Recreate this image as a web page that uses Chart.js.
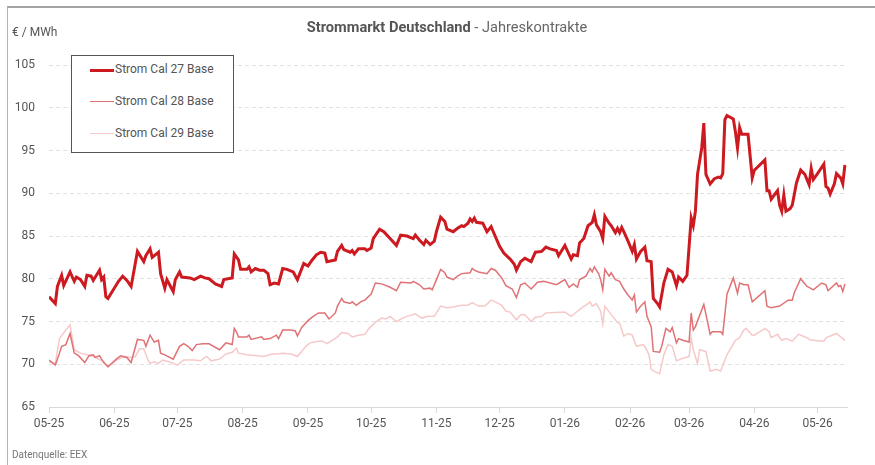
<!DOCTYPE html>
<html lang="de">
<head>
<meta charset="utf-8">
<title>Strommarkt Deutschland - Jahreskontrakte</title>
<script src="https://cdn.jsdelivr.net/npm/chart.js@4.4.1/dist/chart.umd.min.js"></script>
<style>
  body { margin: 0; background: #fff; font-family: "Liberation Sans Narrow", "Roboto", sans-serif; }
  #wrap { position: relative; width: 875px; height: 465px; overflow: hidden; }
  #frame { position: absolute; left: 7px; top: 6px; width: 870px; height: 470px; border-top: 2px solid #a3a3a3; border-left: 1px solid #b3b3b3; }
  canvas { position: absolute; left: 0; top: 0; }
  .txt { position: absolute; white-space: nowrap; color: #555; }
  #title { left: 49px; width: 796px; top: 18px; text-align: center; font-size: 14.6px; color: #666; }
  #title b { color: #555; }
  #unit { left: 12px; top: 25px; font-size: 12px; }
  #source { left: 12px; top: 449px; font-size: 10px; color: #777; }
  #legend { position: absolute; left: 71px; top: 55px; width: 161px; height: 96px; border: 1px solid #555; background: #fff; }
  .item { position: absolute; left: 18px; height: 16px; }
  .item span.sw { position: absolute; left: 0; width: 24px; }
  .item span.lb { position: absolute; left: 25px; top: 0; font-size: 12px; color: #555; white-space: nowrap; }
</style>
</head>
<body>
<div id="wrap">
  <div id="frame"></div>
  <canvas id="chart" width="875" height="465"></canvas>
  <div id="title" class="txt"><b>Strommarkt Deutschland</b> - Jahreskontrakte</div>
  <div id="unit" class="txt">€ / MWh</div>
  <div id="source" class="txt">Datenquelle: EEX</div>
  <div id="legend"></div>
</div>
<script>
// Monatsanfänge als Tage seit 01.05.2025
var monthTicks = [0, 31, 61, 92, 123, 153, 184, 214, 245, 276, 304, 335, 365];
var monthLabels = ['05-25', '06-25', '07-25', '08-25', '09-25', '10-25', '11-25', '12-25', '01-26', '02-26', '03-26', '04-26', '05-26'];

var seriesNames = ['Strom Cal 27 Base', 'Strom Cal 28 Base', 'Strom Cal 29 Base'];
var seriesColors = ['#cc1a20', '#e07275', '#f6c9c9'];
var seriesWidths = [3, 1.5, 1.5];

// Cal 27 (Tage seit 01.05.2025 / EUR je MWh)
var days27 = [0, 3, 4, 6, 7, 10, 12, 13, 15, 17, 18, 20, 21, 24, 25, 26, 27, 28, 32, 33,
  35, 37, 39, 42, 45, 46, 48, 49, 52, 53, 55, 56, 59, 60, 62, 63, 67, 69, 72, 74,
  76, 79, 82, 83, 87, 88, 90, 91, 94, 95, 96, 98, 100, 102, 104, 105, 107, 109, 111, 113,
  116, 118, 121, 123, 125, 127, 129, 131, 132, 136, 137, 139, 140, 143, 144, 145, 147, 150, 151, 153,
  154, 157, 159, 162, 165, 167, 170, 173, 174, 176, 178, 179, 181, 183, 184, 186, 188, 189, 192, 194,
  196, 197, 199, 200, 201, 202, 203, 206, 208, 210, 211, 214, 216, 219, 221, 222, 224, 226, 229, 231,
  234, 236, 238, 241, 242, 245, 248, 249, 251, 252, 254, 256, 258, 259, 260, 262, 263, 264, 266, 267,
  269, 270, 271, 272, 273, 275, 277, 278, 279, 281, 283, 284, 286, 287, 289, 290, 292, 294, 296, 298,
  299, 301, 303, 305, 306, 307, 308, 310, 311, 312, 314, 316, 318, 319, 320, 321, 322, 325, 326, 327,
  328, 329, 332, 334, 335, 340, 341, 342, 343, 346, 347, 348, 349, 350, 352, 353, 355, 357, 359, 361,
  362, 363, 365, 368, 369, 370, 371, 373, 374, 376, 377, 378];
var cal27 = [77.9, 77.1, 79.1, 80.4, 79.2, 80.8, 79.7, 80.2, 79.9, 79.1, 80.4, 80.3, 79.8, 81.0, 79.9, 80.2, 77.9, 77.7, 79.3, 79.7,
  80.3, 79.8, 79.1, 83.2, 82.0, 82.7, 83.5, 82.5, 83.1, 80.6, 78.9, 79.9, 78.5, 79.9, 80.8, 80.2, 80.1, 79.9, 80.3, 80.1,
  80.0, 79.4, 79.1, 79.9, 80.1, 82.9, 82.2, 81.1, 81.1, 81.4, 80.8, 81.2, 81.0, 81.0, 80.6, 79.3, 79.5, 79.4, 81.2, 81.1,
  80.8, 79.9, 81.8, 81.5, 82.2, 82.8, 83.1, 83.0, 82.0, 82.2, 83.2, 83.9, 83.4, 83.1, 83.3, 82.9, 83.5, 83.5, 83.3, 83.6,
  84.7, 85.8, 85.5, 84.7, 83.9, 85.1, 85.0, 84.7, 85.1, 84.5, 84.0, 84.5, 84.0, 84.4, 85.5, 87.2, 86.7, 85.8, 85.5, 85.9,
  86.2, 86.1, 86.5, 87.0, 86.7, 87.1, 86.6, 86.5, 85.5, 86.1, 85.5, 83.8, 83.0, 82.3, 81.7, 81.0, 82.0, 82.4, 82.0, 83.1,
  83.2, 83.7, 83.5, 83.3, 82.7, 83.9, 82.3, 82.8, 82.7, 84.2, 84.7, 86.2, 86.6, 87.5, 86.3, 85.5, 84.7, 87.3, 86.5, 86.2,
  85.4, 85.9, 85.4, 86.0, 85.5, 84.4, 83.2, 84.0, 82.3, 83.2, 83.7, 82.1, 82.0, 77.7, 77.1, 76.7, 79.5, 81.1, 80.8, 79.2,
  80.2, 79.7, 80.4, 87.1, 86.2, 87.9, 92.2, 95.3, 98.2, 92.2, 91.1, 91.7, 91.9, 91.8, 92.3, 98.6, 99.1, 98.7, 97.2, 95.3,
  97.7, 96.9, 96.9, 91.8, 92.7, 93.9, 90.3, 90.3, 89.3, 90.3, 88.6, 87.9, 89.8, 87.9, 88.2, 88.6, 91.2, 92.7, 92.2, 91.0,
  92.9, 91.6, 92.3, 93.4, 90.8, 90.6, 89.9, 91.1, 92.3, 91.8, 91.1, 93.3];

// Cal 28
var days28 = [0, 3, 5, 6, 8, 10, 12, 14, 17, 19, 21, 22, 24, 26, 28, 32, 34, 37, 39, 42,
  45, 46, 48, 50, 52, 53, 55, 59, 62, 64, 66, 68, 70, 73, 76, 81, 84, 87, 88, 89,
  90, 94, 95, 96, 101, 102, 105, 108, 109, 111, 115, 117, 118, 120, 123, 125, 128, 131, 133, 136,
  137, 139, 140, 143, 144, 146, 148, 150, 153, 155, 158, 162, 165, 167, 172, 173, 176, 178, 181, 182,
  184, 186, 188, 189, 192, 194, 196, 200, 201, 202, 204, 208, 210, 212, 215, 217, 220, 222, 224, 226,
  229, 232, 235, 241, 245, 247, 249, 251, 252, 255, 257, 258, 259, 261, 262, 263, 264, 266, 267, 269,
  271, 273, 275, 277, 278, 279, 281, 283, 284, 286, 287, 290, 291, 293, 295, 296, 298, 299, 301, 304,
  305, 306, 307, 311, 314, 315, 319, 320, 322, 325, 327, 328, 330, 332, 334, 340, 341, 343, 347, 351,
  353, 354, 357, 360, 361, 363, 367, 369, 370, 374, 375, 376, 377, 378];
var cal28 = [70.5, 69.9, 71.3, 72.1, 72.3, 73.6, 71.3, 71.0, 70.2, 71.0, 71.1, 70.8, 71.0, 70.2, 69.7, 70.6, 71.0, 70.8, 70.2, 72.9,
  72.8, 72.1, 73.4, 72.6, 72.8, 71.3, 71.1, 70.6, 72.1, 72.4, 72.1, 71.6, 72.3, 72.4, 72.4, 71.7, 72.5, 72.3, 74.2, 73.8,
  73.2, 73.2, 73.4, 72.9, 73.2, 72.9, 73.0, 73.4, 73.0, 74.0, 74.0, 73.9, 73.3, 74.3, 75.1, 75.5, 76.0, 76.0, 75.3, 76.0,
  76.8, 77.7, 77.3, 77.1, 77.3, 76.9, 77.3, 77.5, 78.2, 79.5, 79.4, 79.0, 78.6, 79.6, 79.5, 79.7, 79.3, 78.8, 78.9, 78.7,
  79.9, 81.1, 80.7, 80.2, 79.9, 80.3, 80.6, 80.7, 81.2, 81.0, 80.8, 80.6, 81.2, 81.0, 80.1, 79.2, 78.8, 77.8, 79.3, 79.5,
  78.8, 79.6, 79.7, 79.3, 79.9, 79.0, 79.4, 79.0, 79.9, 80.3, 81.2, 80.8, 81.4, 80.6, 79.9, 78.7, 81.1, 80.3, 80.7, 79.9,
  79.7, 78.8, 78.1, 77.5, 78.1, 76.1, 76.8, 77.3, 75.6, 74.4, 71.5, 71.4, 72.1, 74.2, 73.8, 74.3, 72.5, 73.0, 72.8, 72.6,
  76.0, 74.0, 74.4, 77.0, 73.5, 73.8, 73.8, 73.5, 78.2, 80.1, 78.3, 79.5, 79.3, 79.3, 77.3, 78.6, 76.8, 76.6, 76.8, 77.5,
  77.5, 78.4, 80.0, 79.1, 79.0, 78.7, 79.5, 79.3, 78.6, 79.5, 79.1, 79.2, 78.5, 79.4];

// Cal 29
var days29 = [0, 3, 5, 8, 10, 12, 15, 18, 21, 26, 28, 32, 36, 39, 41, 43, 45, 47, 48, 50,
  52, 54, 58, 61, 64, 69, 72, 74, 75, 77, 81, 84, 87, 89, 90, 94, 99, 102, 106, 108,
  111, 115, 118, 120, 122, 124, 128, 130, 132, 134, 137, 139, 142, 144, 147, 150, 152, 155, 158, 160,
  162, 165, 168, 170, 174, 177, 180, 183, 186, 189, 192, 196, 199, 201, 204, 207, 210, 212, 215, 217,
  219, 222, 224, 226, 229, 231, 234, 236, 245, 248, 251, 253, 256, 257, 258, 260, 262, 263, 264, 267,
  270, 271, 273, 275, 277, 279, 282, 283, 285, 286, 288, 290, 292, 294, 296, 298, 301, 304, 305, 306,
  308, 309, 312, 314, 317, 319, 322, 326, 328, 330, 331, 334, 335, 340, 342, 343, 346, 348, 350, 353,
  356, 360, 362, 363, 368, 369, 374, 377, 378];
var cal29 = [70.3, 70.1, 73.0, 74.0, 74.6, 71.7, 71.3, 71.1, 70.9, 70.3, 69.7, 70.5, 70.9, 70.8, 70.9, 71.8, 71.8, 70.5, 70.1, 70.3,
  70.1, 70.5, 70.2, 69.9, 70.5, 70.5, 70.4, 70.8, 70.9, 70.4, 70.6, 71.2, 71.4, 71.9, 71.3, 71.1, 71.0, 70.9, 71.2, 71.2,
  71.3, 71.2, 70.9, 71.5, 72.1, 72.5, 72.7, 72.7, 72.4, 72.7, 73.2, 73.7, 73.6, 73.2, 73.4, 73.5, 74.2, 74.9, 75.4, 75.3,
  75.6, 75.0, 75.4, 75.6, 75.9, 75.4, 75.6, 75.6, 76.8, 76.6, 76.7, 76.9, 76.9, 77.2, 76.8, 76.8, 77.5, 77.3, 76.9, 76.2,
  76.1, 75.2, 75.8, 75.8, 75.0, 75.5, 75.6, 76.0, 76.1, 75.6, 76.2, 76.6, 77.1, 77.3, 76.8, 77.1, 76.2, 74.7, 76.8, 75.8,
  74.9, 74.8, 73.3, 73.6, 73.4, 72.1, 72.3, 72.1, 71.1, 69.4, 69.1, 68.9, 71.1, 72.3, 72.1, 70.4, 70.7, 70.9, 73.1, 71.7,
  70.1, 71.7, 71.5, 69.2, 69.4, 69.2, 71.1, 72.8, 73.1, 74.0, 74.2, 73.4, 73.4, 74.2, 73.8, 73.1, 73.5, 72.8, 73.0, 72.7,
  73.5, 73.1, 72.8, 72.8, 72.7, 73.1, 73.6, 73.0, 72.8];

var yMin = 65, yMax = 105, yStep = 5;

function toPoints(days, vals) {
  return days.map(function (d, i) { return { x: d, y: vals[i] }; });
}

var allDays = [days27, days28, days29];
var allVals = [cal27, cal28, cal29];

var datasets = seriesNames.map(function (name, i) {
  return {
    label: name,
    data: toPoints(allDays[i], allVals[i]),
    borderColor: seriesColors[i],
    backgroundColor: seriesColors[i],
    borderWidth: seriesWidths[i],
    pointRadius: 0,
    tension: 0,
    fill: false
  };
});

// Legende als Kasten oben links
var legend = document.getElementById('legend');
seriesNames.forEach(function (name, i) {
  var item = document.createElement('div');
  item.className = 'item';
  item.style.top = (6 + i * 32) + 'px';
  var sw = document.createElement('span');
  sw.className = 'sw';
  sw.style.top = (8 - seriesWidths[i] / 2) + 'px';
  sw.style.borderTop = seriesWidths[i] + 'px solid ' + seriesColors[i];
  var lb = document.createElement('span');
  lb.className = 'lb';
  lb.textContent = name;
  item.appendChild(sw);
  item.appendChild(lb);
  legend.appendChild(item);
});

var fontFamily = '"Liberation Sans Narrow", "Roboto", sans-serif';

var ctx = document.getElementById('chart').getContext('2d');
var chart = new Chart(ctx, {
  type: 'line',
  data: { datasets: datasets },
  options: {
    responsive: false,
    animation: false,
    layout: { padding: { top: 65, right: 28, bottom: 18, left: 0 } },
    plugins: {
      legend: { display: false },
      title: { display: false },
      tooltip: { enabled: false }
    },
    scales: {
      x: {
        type: 'linear',
        min: 0,
        max: 379,
        afterBuildTicks: function (scale) {
          scale.ticks = monthTicks.map(function (v) { return { value: v }; });
        },
        afterFit: function (scale) { scale.height = 40; },
        ticks: {
          autoSkip: false,
          maxRotation: 0,
          padding: 4,
          color: '#555',
          font: { family: fontFamily, size: 12 },
          callback: function (v) { return monthLabels[monthTicks.indexOf(v)]; }
        },
        grid: { drawOnChartArea: false, drawTicks: true, tickLength: 6, color: '#d9d9d9' },
        border: { display: true, color: '#d9d9d9' }
      },
      y: {
        min: yMin,
        max: yMax,
        afterFit: function (scale) { scale.width = 49; },
        ticks: {
          stepSize: yStep,
          padding: 14,
          color: '#555',
          font: { family: fontFamily, size: 12 }
        },
        grid: { color: '#e2e2e2', drawTicks: false },
        border: { display: false, dash: [4, 3] }
      }
    }
  }
});
</script>
</body>
</html>
